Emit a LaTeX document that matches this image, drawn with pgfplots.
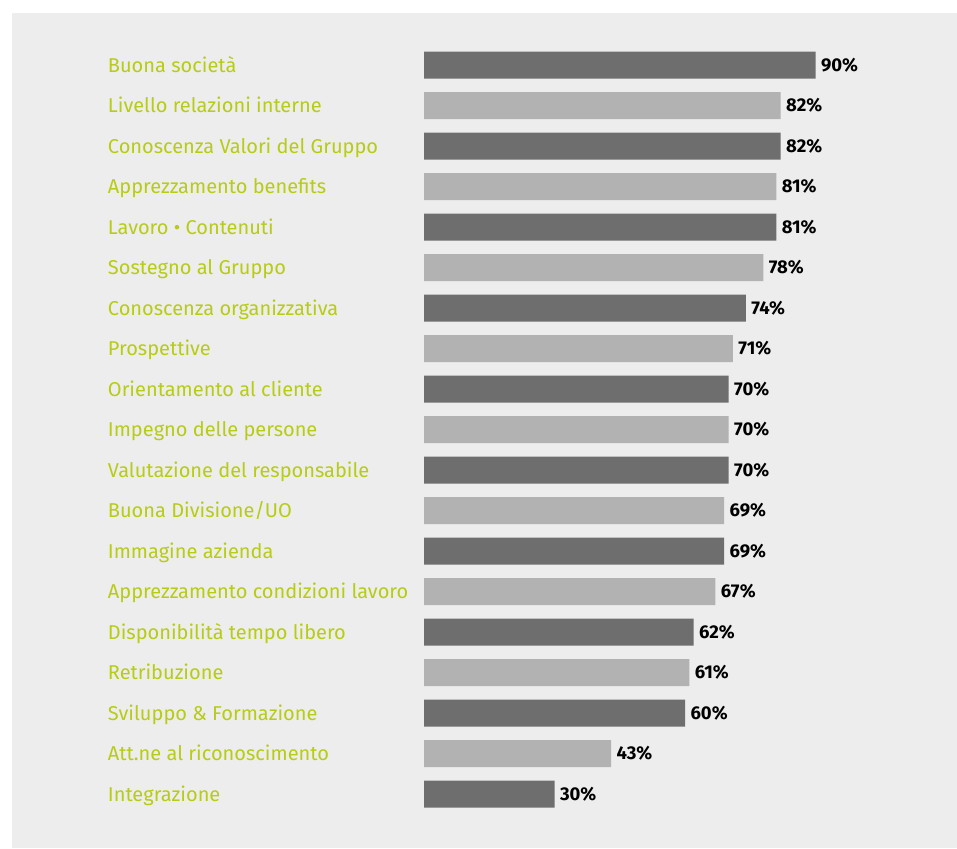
\documentclass[border=0pt]{standalone}
\usepackage{fontspec}
\setmainfont{Fira Sans}
\usepackage{pgfplots}
\pgfplotsset{compat=1.18}
\definecolor{bg}{RGB}{237,237,237}
\definecolor{dark}{RGB}{110,110,110}
\definecolor{light}{RGB}{178,178,178}
\definecolor{lab}{RGB}{183,204,18}
\begin{document}
\begin{tikzpicture}[x=1pt,y=1pt]
\fill[white] (0,0) rectangle (957,848);
\fill[bg] (12,0) rectangle (957,835);
\begin{axis}[
  at={(424pt,33.75pt)}, anchor=south west,
  scale only axis, width=435pt, height=769.5pt,
  xmin=0, xmax=100, ymin=-0.5, ymax=18.5,
  y dir=reverse,
  xbar, bar width=27pt, bar shift=0pt,
  xtick=\empty,
  ytick={0,...,18},
  yticklabels={Buona società, Livello relazioni interne, Conoscenza Valori del Gruppo, Apprezzamento benefits, Lavoro \textbullet\ Contenuti, Sostegno al Gruppo, Conoscenza organizzativa, Prospettive, Orientamento al cliente, Impegno delle persone, Valutazione del responsabile, Buona Divisione/UO, Immagine azienda, Apprezzamento condizioni lavoro, Disponibilità tempo libero, Retribuzione, Sviluppo \& Formazione, Att.ne al riconoscimento, Integrazione},
  axis line style={draw=none},
  tick style={draw=none},
  yticklabel style={anchor=west, xshift=-312pt, yshift=-2pt, inner sep=0pt, text height=14pt, text depth=4pt, font=\fontsize{20}{20}\selectfont, text=lab},
  /pgf/number format/assume math mode=true,
  nodes near coords={\pgfmathprintnumber{\pgfplotspointmeta}\%},
  nodes near coords style={font=\bfseries\fontsize{18.5}{18.5}\selectfont, anchor=west, xshift=2pt, text=black},
  clip=false,
]
\addplot[fill=dark, draw=none] coordinates {(90,0) (82,2) (81,4) (74,6) (70,8) (70,10) (69,12) (62,14) (60,16) (30,18)};
\addplot[fill=light, draw=none] coordinates {(82,1) (81,3) (78,5) (71,7) (70,9) (69,11) (67,13) (61,15) (43,17)};
\end{axis}
\end{tikzpicture}
\end{document}
